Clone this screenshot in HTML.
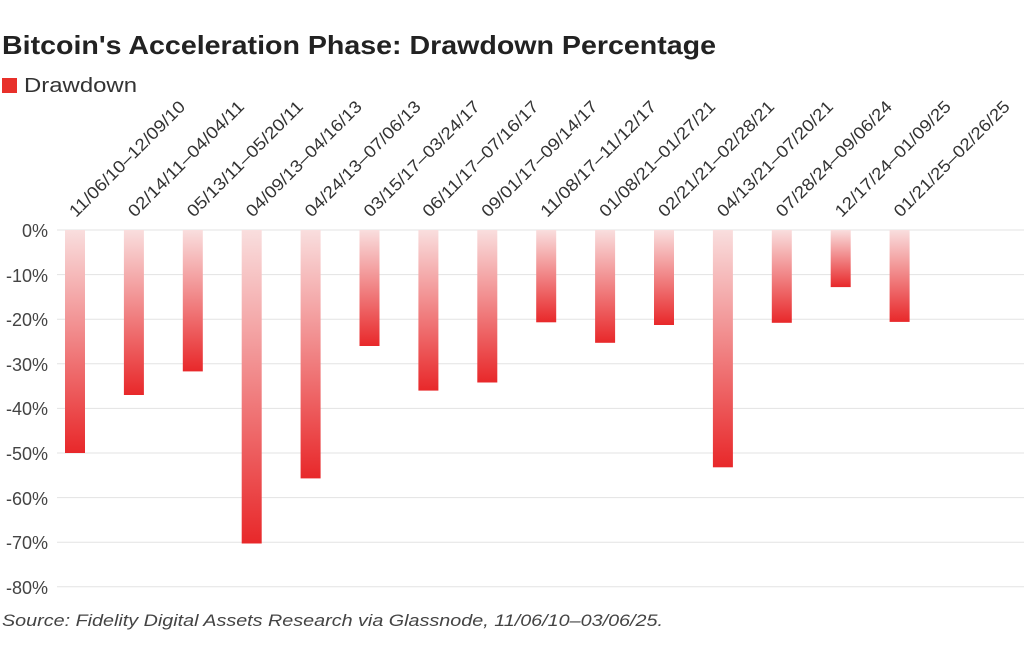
<!DOCTYPE html><html><head><style>body{margin:0;background:#fff;width:1024px;height:659px;overflow:hidden}</style></head><body>
<svg width="1024" height="659" xmlns="http://www.w3.org/2000/svg" font-family="Liberation Sans, sans-serif">
<defs><linearGradient id="g" x1="0" y1="0" x2="0" y2="1"><stop offset="0" stop-color="#f9dede"/><stop offset="1" stop-color="#e8282a"/></linearGradient></defs>
<text x="2" y="54" font-size="26" font-weight="bold" fill="#222" textLength="714" lengthAdjust="spacingAndGlyphs">Bitcoin's Acceleration Phase: Drawdown Percentage</text>
<rect x="2" y="78" width="15" height="15" fill="#e8302a"/>
<text x="24" y="92" font-size="20" fill="#333" textLength="113" lengthAdjust="spacingAndGlyphs">Drawdown</text>
<g stroke="#e3e3e3" stroke-width="1">
<line x1="57" x2="1024" y1="230" y2="230"/><line x1="57" x2="1024" y1="274.6" y2="274.6"/><line x1="57" x2="1024" y1="319.2" y2="319.2"/><line x1="57" x2="1024" y1="363.8" y2="363.8"/><line x1="57" x2="1024" y1="408.4" y2="408.4"/><line x1="57" x2="1024" y1="453" y2="453"/><line x1="57" x2="1024" y1="497.6" y2="497.6"/><line x1="57" x2="1024" y1="542.2" y2="542.2"/><line x1="57" x2="1024" y1="586.8" y2="586.8"/>
</g>
<g font-size="18" fill="#444" text-anchor="end">
<text x="48" y="237">0%</text><text x="48" y="282">-10%</text><text x="48" y="326">-20%</text><text x="48" y="371">-30%</text><text x="48" y="415">-40%</text><text x="48" y="460">-50%</text><text x="48" y="505">-60%</text><text x="48" y="549">-70%</text><text x="48" y="594">-80%</text>
</g>
<g fill="url(#g)">
<rect x="65" y="230" width="20" height="223"/>
<rect x="123.9" y="230" width="20" height="165"/>
<rect x="182.8" y="230" width="20" height="141.4"/>
<rect x="241.7" y="230" width="20" height="313.5"/>
<rect x="300.6" y="230" width="20" height="248.4"/>
<rect x="359.5" y="230" width="20" height="116"/>
<rect x="418.4" y="230" width="20" height="160.6"/>
<rect x="477.3" y="230" width="20" height="152.5"/>
<rect x="536.2" y="230" width="20" height="92.3"/>
<rect x="595.1" y="230" width="20" height="112.8"/>
<rect x="654" y="230" width="20" height="95"/>
<rect x="712.9" y="230" width="20" height="237.3"/>
<rect x="771.8" y="230" width="20" height="92.8"/>
<rect x="830.7" y="230" width="20" height="57.1"/>
<rect x="889.6" y="230" width="20" height="91.9"/>
</g>
<g font-size="17" fill="#333">
<text transform="translate(76,218) rotate(-45)" textLength="156" lengthAdjust="spacingAndGlyphs">11/06/10–12/09/10</text>
<text transform="translate(134.9,218) rotate(-45)" textLength="156" lengthAdjust="spacingAndGlyphs">02/14/11–04/04/11</text>
<text transform="translate(193.8,218) rotate(-45)" textLength="156" lengthAdjust="spacingAndGlyphs">05/13/11–05/20/11</text>
<text transform="translate(252.7,218) rotate(-45)" textLength="156" lengthAdjust="spacingAndGlyphs">04/09/13–04/16/13</text>
<text transform="translate(311.6,218) rotate(-45)" textLength="156" lengthAdjust="spacingAndGlyphs">04/24/13–07/06/13</text>
<text transform="translate(370.5,218) rotate(-45)" textLength="156" lengthAdjust="spacingAndGlyphs">03/15/17–03/24/17</text>
<text transform="translate(429.4,218) rotate(-45)" textLength="156" lengthAdjust="spacingAndGlyphs">06/11/17–07/16/17</text>
<text transform="translate(488.3,218) rotate(-45)" textLength="156" lengthAdjust="spacingAndGlyphs">09/01/17–09/14/17</text>
<text transform="translate(547.2,218) rotate(-45)" textLength="156" lengthAdjust="spacingAndGlyphs">11/08/17–11/12/17</text>
<text transform="translate(606.1,218) rotate(-45)" textLength="156" lengthAdjust="spacingAndGlyphs">01/08/21–01/27/21</text>
<text transform="translate(665,218) rotate(-45)" textLength="156" lengthAdjust="spacingAndGlyphs">02/21/21–02/28/21</text>
<text transform="translate(723.9,218) rotate(-45)" textLength="156" lengthAdjust="spacingAndGlyphs">04/13/21–07/20/21</text>
<text transform="translate(782.8,218) rotate(-45)" textLength="156" lengthAdjust="spacingAndGlyphs">07/28/24–09/06/24</text>
<text transform="translate(841.7,218) rotate(-45)" textLength="156" lengthAdjust="spacingAndGlyphs">12/17/24–01/09/25</text>
<text transform="translate(900.6,218) rotate(-45)" textLength="156" lengthAdjust="spacingAndGlyphs">01/21/25–02/26/25</text>
</g>
<text x="2" y="626" font-size="17" font-style="italic" fill="#444" textLength="661" lengthAdjust="spacingAndGlyphs">Source: Fidelity Digital Assets Research via Glassnode, 11/06/10–03/06/25.</text>
</svg></body></html>
